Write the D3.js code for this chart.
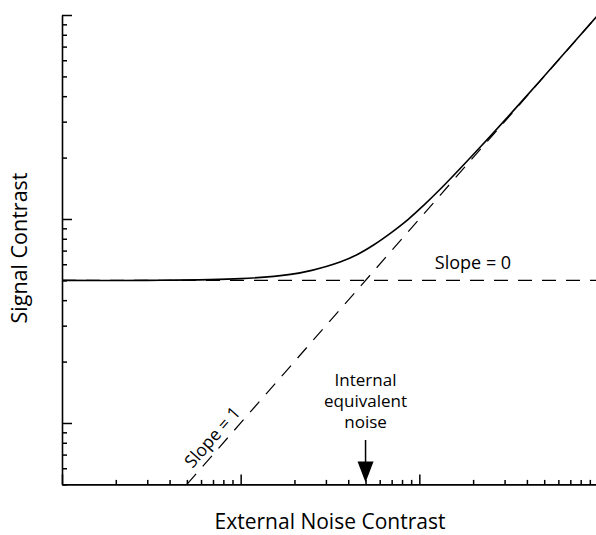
<!DOCTYPE html>
<html>
<head>
<meta charset="utf-8">
<script src="https://cdn.jsdelivr.net/npm/d3@7"></script>
<style>
  body { margin: 0; background: #fff; }
  text { font-family: "Open Sans", sans-serif; fill: #000; }
</style>
</head>
<body>
<div class="chart"></div>
<script>
const width = 596;
const height = 535;

// external noise (x) vs threshold signal contrast (y), both log
const noiseX = [0.01, 0.03, 0.1, 0.19, 0.25, 0.36, 0.45, 0.56, 0.7, 0.86, 1.05, 1.32, 2.2, 3.7, 6, 10];
const signalY = [0.50, 0.50, 0.51, 0.535, 0.56, 0.615, 0.67, 0.75, 0.86, 0.99, 1.16, 1.41, 2.26, 3.73, 6.02, 10];

const flatLine = {x: [0.01, 10], y: [0.5, 0.5]};       // slope = 0
const slopeLine = {x: [0.05, 10], y: [0.05, 10]};      // slope = 1
const internalNoise = 0.5;

const xDomain = [0.01, 10];
const yDomain = [0.05, 10];

const x = d3.scaleLog().domain(xDomain).range([62, 598]);
const y = d3.scaleLog().domain(yDomain).range([484.4, 15]);

const svg = d3.select(".chart")
    .append("svg")
        .attr("width", width)
        .attr("height", height);

const isMajor = v => Math.abs(Math.log10(v) - Math.round(Math.log10(v))) < 1e-6;

// axes, ticks pointing inward
const xAxis = svg.append("g")
    .attr("transform", `translate(0,${y(yDomain[0])})`)
    .call(d3.axisBottom(x).ticks(20).tickFormat("").tickSizeOuter(0).tickSizeInner(0));
xAxis.selectAll(".tick line")
    .attr("y2", d => isMajor(d) ? -10 : -4.5);

const yAxis = svg.append("g")
    .attr("transform", `translate(${x(xDomain[0])},0)`)
    .call(d3.axisLeft(y).ticks(20).tickFormat("").tickSizeOuter(0).tickSizeInner(0));
yAxis.selectAll(".tick line")
    .attr("x2", d => isMajor(d) ? 10 : 5);

svg.selectAll(".domain, .tick line")
    .attr("stroke", "#000")
    .attr("stroke-width", 1.5);
svg.selectAll(".domain").attr("stroke-width", 1.6);

const line = d3.line()
    .x(d => x(d[0]))
    .y(d => y(d[1]));

// dashed asymptotes
[flatLine, slopeLine].forEach(l => {
    svg.append("path")
        .attr("d", line(d3.zip(l.x, l.y)))
        .attr("fill", "none")
        .attr("stroke", "#000")
        .attr("stroke-width", 1.2)
        .attr("stroke-dasharray", "14,10");
});

// the curve
svg.append("path")
    .attr("d", line.curve(d3.curveCatmullRom)(d3.zip(noiseX, signalY)))
    .attr("fill", "none")
    .attr("stroke", "#000")
    .attr("stroke-width", 1.6);

// labels
svg.append("text")
    .attr("transform", `translate(27,248) rotate(-90)`)
    .attr("text-anchor", "middle")
    .attr("font-size", 21.5)
    .text("Signal Contrast");

svg.append("text")
    .attr("x", 330)
    .attr("y", 529)
    .attr("text-anchor", "middle")
    .attr("font-size", 21)
    .text("External Noise Contrast");

svg.append("text")
    .attr("x", 473)
    .attr("y", 269)
    .attr("text-anchor", "middle")
    .attr("font-size", 18)
    .text("Slope = 0");

const angle = Math.atan2(y(0.05) - y(0.5), x(0.5) - x(0.05)) * 180 / Math.PI;
svg.append("text")
    .attr("transform", `translate(${x(0.078)},${y(0.078)}) rotate(${-angle})`)
    .attr("dy", -6)
    .attr("text-anchor", "middle")
    .attr("font-size", 17.5)
    .text("Slope = 1");

const nx = x(internalNoise);
svg.append("text")
    .attr("text-anchor", "middle")
    .attr("font-size", 17)
    .selectAll("tspan")
    .data(["Internal", "equivalent", "noise"])
    .join("tspan")
        .attr("x", nx)
        .attr("y", (d, i) => 386 + i * 20.8)
        .text(d => d);

svg.append("line")
    .attr("x1", nx).attr("x2", nx)
    .attr("y1", 440).attr("y2", 464)
    .attr("stroke", "#000")
    .attr("stroke-width", 1.5);

svg.append("path")
    .attr("d", `M${nx - 8},461.5 L${nx + 8},461.5 L${nx},${y(yDomain[0]) - 2} Z`)
    .attr("fill", "#000");
</script>
</body>
</html>
